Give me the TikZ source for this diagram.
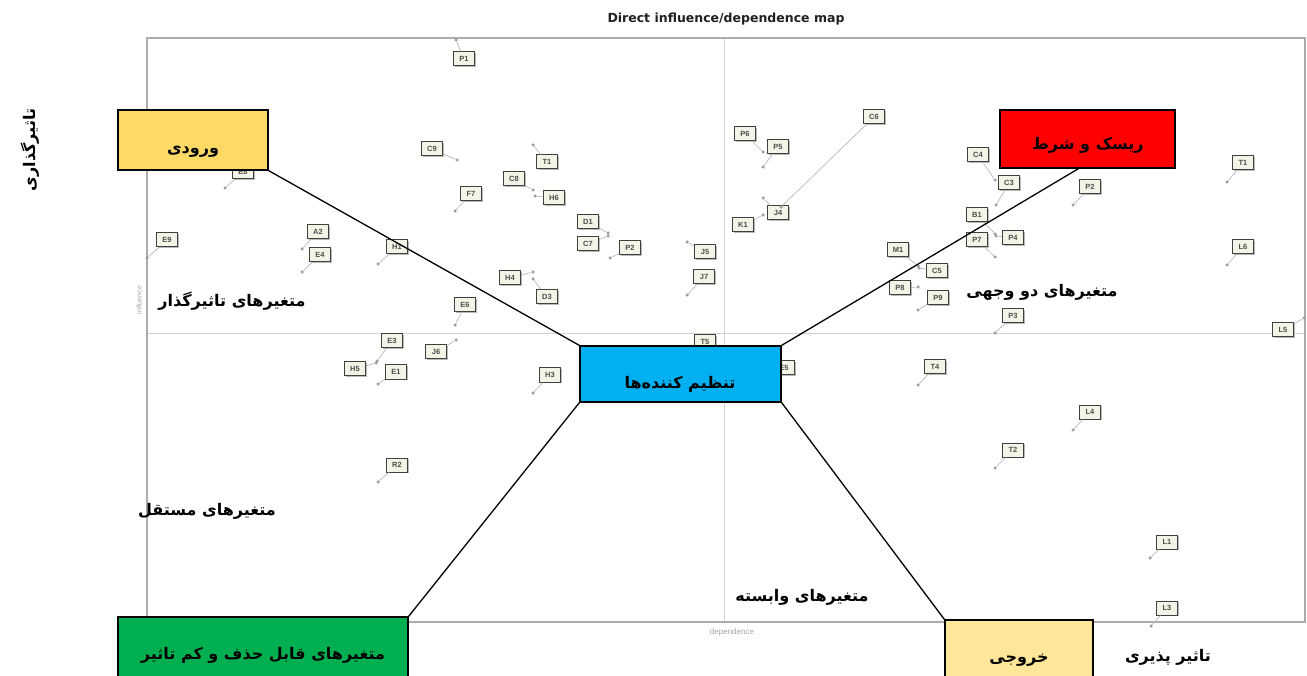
\documentclass[tikz,border=0pt]{standalone}
\usepackage{fontspec}
\setmainfont{Liberation Sans}
\newfontfamily\fa[Script=Arabic]{DejaVu Sans}
\newfontfamily\dv{DejaVu Sans}
\TeXXeTstate=1
\usetikzlibrary{shadows,calc}
\definecolor{inyel}{HTML}{FFD966}
\definecolor{outyel}{HTML}{FFE699}
\definecolor{regcyan}{HTML}{00B0F0}
\definecolor{remgreen}{HTML}{00B050}
\definecolor{lblfill}{HTML}{F4F4E6}
\newcommand\fat[1]{{\fa\bfseries\beginR #1\endR}}
\newcommand\vpt[4]{\node[mk] (#1m) at (#4) {}; \node[lbl] (#1) at (#3) {#2}; \draw[lk] (#1m) -- (#1);}
\tikzset{
  mk/.style={circle,fill=gray!75,inner sep=0pt,minimum size=3.5pt},
  lbl/.style={draw=gray!50!black,fill=lblfill,line width=1pt,inner sep=1.5pt,minimum width=21pt,minimum height=14pt,font=\fontsize{7.5}{7.5}\selectfont\bfseries,text=gray!60!black,drop shadow={shadow xshift=1.3pt,shadow yshift=-1.3pt,fill=gray!55,opacity=1}},
  lk/.style={gray!60,line width=0.6pt},
  catbox/.style={draw=black,line width=1.2pt,inner sep=0pt},
  conn/.style={black,line width=1.3pt},
  cattxt/.style={font=\fontsize{16}{16}\selectfont,inner sep=0pt},
}
\begin{document}
\begin{tikzpicture}[x=1pt,y=-1pt]
\useasboundingbox (0,0) rectangle (1307,676);
\fill[white] (0,0) rectangle (1307,676);
% frame and axes
\draw[gray!35,line width=0.8pt] (724,38) -- (724,622);
\draw[gray!35,line width=0.8pt] (147,333) -- (1305,333);
\draw[gray!65,line width=1.6pt] (147,38) rectangle (1305,622);
\node[font=\dv\bfseries\fontsize{12.5}{12.5}\selectfont,text=gray!25!black] (title) at (726,19) {Direct influence/dependence map};
\node[rotate=90,font=\fontsize{7}{7}\selectfont,text=gray!70] (infl) at (139,300) {influence};
\node[font=\fontsize{8}{8}\selectfont,text=gray!70] (dep) at (732,632) {dependence};
% data points
\vpt{a1}{P1}{464,59}{456,40}
\vpt{a2}{C9}{432,149}{457,160}
\vpt{a3}{E8}{243,172}{225,188}
\vpt{a4}{F7}{471,194}{455,211}
\vpt{a5}{T1}{547,162}{533,145}
\vpt{a6}{C8}{514,179}{533,190}
\vpt{a7}{H6}{554,198}{535,196}
\vpt{a8}{D1}{588,222}{608,233}
\vpt{a9}{C7}{588,244}{608,236}
\vpt{a10}{P2}{630,248}{610,258}
\vpt{a11}{J5}{705,252}{687,242}
\vpt{a12}{J7}{704,277}{687,295}
\vpt{a13}{H4}{510,278}{533,272}
\vpt{a14}{D3}{547,297}{533,279}
\vpt{a15}{E6}{465,305}{455,325}
\vpt{a16}{J6}{436,352}{456,340}
\vpt{a17}{H3}{550,375}{533,393}
\vpt{a18}{E9}{167,240}{147,258}
\vpt{a19}{A2}{318,232}{302,249}
\vpt{a20}{E4}{320,255}{302,272}
\vpt{a21}{H1}{397,247}{378,264}
\vpt{a22}{E3}{392,341}{377,361}
\vpt{a23}{H5}{355,369}{376,363}
\vpt{a24}{E1}{396,372}{378,384}
\vpt{a25}{R2}{397,465}{378,482}
\vpt{a26}{P6}{745,134}{763,152}
\vpt{a27}{P5}{778,147}{763,167}
\vpt{a29}{J4}{778,213}{763,198}
\vpt{a28}{C6}{874,117}{781,207}
\vpt{a30}{K1}{743,225}{763,215}
\vpt{a31}{C4}{978,155}{995,180}
\vpt{a32}{C3}{1009,183}{996,205}
\vpt{a33}{B1}{977,215}{995,234}
\vpt{a34}{P7}{977,240}{995,257}
\vpt{a35}{P4}{1013,238}{996,236}
\vpt{a36}{M1}{898,250}{918,266}
\vpt{a37}{C5}{937,271}{919,268}
\vpt{a38}{P8}{900,288}{918,287}
\vpt{a39}{P9}{938,298}{918,310}
\vpt{a40}{P3}{1013,316}{995,333}
\vpt{a41}{T4}{935,367}{918,385}
\vpt{a42}{L4}{1090,412}{1073,430}
\vpt{a43}{T2}{1013,450}{995,468}
\vpt{a44}{L1}{1167,542}{1150,558}
\vpt{a45}{L3}{1167,608}{1151,626}
\vpt{a46}{T1}{1243,163}{1227,182}
\vpt{a47}{P2}{1090,187}{1073,205}
\vpt{a48}{L6}{1243,247}{1227,265}
\vpt{a49}{L5}{1283,330}{1304,318}
\vpt{a50}{T5}{705,342}{724,352}
\vpt{a51}{E5}{784,368}{768,385}
% category boxes
\node[catbox,fill=inyel,minimum width=150pt,minimum height=60pt] (inp) at (193,140) {};
\node[cattxt] at (193,152) {\fat{ورودی}};
\node[catbox,fill=red,minimum width=175pt,minimum height=58pt] (risk) at (1087.5,139) {};
\node[cattxt] at (1088,145) {\fat{ریسک و شرط}};
\node[catbox,fill=regcyan,minimum width=201pt,minimum height=56pt] (reg) at (680.5,374) {};
\node[cattxt] at (680,384) {\fat{تنظیم کننده‌ها}};
\node[catbox,fill=remgreen,minimum width=290pt,minimum height=64pt] (rem) at (263,649) {};
\node[cattxt] at (263,655) {\fat{متغیرهای قابل حذف و کم تاثیر}};
\node[catbox,fill=outyel,minimum width=148pt,minimum height=60pt] (out) at (1019,650) {};
\node[cattxt] at (1019,660) {\fat{خروجی}};
% connectors
\draw[conn] (inp.south east) -- (reg.north west);
\draw[conn] ($(risk.south)+(-9,0)$) -- (reg.north east);
\draw[conn] (reg.south west) -- (rem.north east);
\draw[conn] (reg.south east) -- (out.north west);
% quadrant texts
\node[cattxt] (t1) at (232,301) {\fat{متغیرهای تاثیرگذار}};
\node[cattxt] (t2) at (1042,292) {\fat{متغیرهای دو وجهی}};
\node[cattxt] (t3) at (207,511) {\fat{متغیرهای مستقل}};
\node[cattxt] (t4) at (802,597) {\fat{متغیرهای وابسته}};
\node[cattxt] (t5) at (1168,657) {\fat{تاثیر پذیری}};
\node[cattxt,rotate=90] (t6) at (30,150) {\fat{تاثیرگذاری}};
\end{tikzpicture}
\end{document}
